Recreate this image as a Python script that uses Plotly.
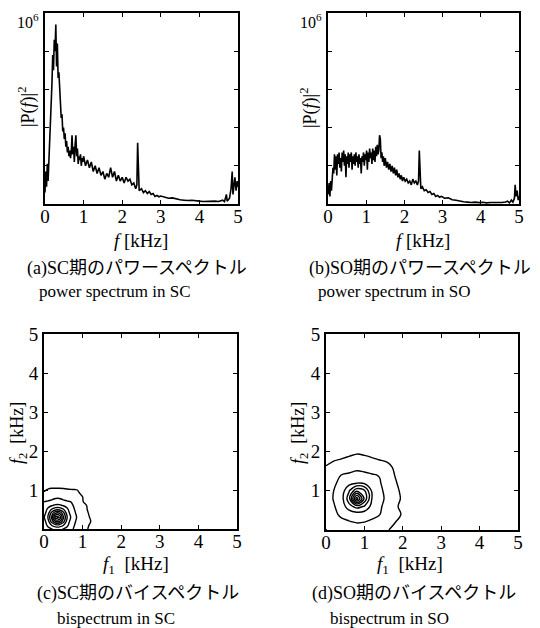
import plotly.graph_objects as go

PAGE_W, PAGE_H = 540, 628
OFF = 8  # default body margin of the html page
W, H = PAGE_W - OFF, PAGE_H - OFF

# ---------------- power spectrum in SC (kHz, |P(f)|^2) ----------------
f_sc = [0.00, 0.02, 0.04, 0.06, 0.08, 0.10, 0.12, 0.14, 0.16, 0.18, 0.20, 0.22, 0.24, 0.26,
        0.28, 0.30, 0.32, 0.34, 0.36, 0.38, 0.40, 0.42, 0.44, 0.46, 0.48, 0.50, 0.52, 0.54,
        0.56, 0.58, 0.60, 0.62, 0.64, 0.66, 0.68, 0.70, 0.72, 0.74, 0.76, 0.78, 0.80, 0.82,
        0.84, 0.86, 0.88, 0.90, 0.92, 0.94, 0.96, 0.98, 1.00, 1.05, 1.10, 1.15, 1.20, 1.25,
        1.30, 1.35, 1.40, 1.45, 1.50, 1.55, 1.60, 1.65, 1.70, 1.75, 1.80, 1.85, 1.90, 1.95,
        2.00, 2.05, 2.10, 2.15, 2.20, 2.25, 2.30, 2.35, 2.38, 2.40, 2.42, 2.44, 2.50, 2.55,
        2.60, 2.65, 2.70, 2.75, 2.80, 2.85, 2.90, 2.95, 3.00, 3.10, 3.20, 3.30, 3.40, 3.50,
        3.60, 3.70, 3.80, 3.90, 4.00, 4.10, 4.20, 4.30, 4.40, 4.50, 4.60, 4.65, 4.70, 4.72,
        4.78, 4.82, 4.85, 4.87, 4.90, 4.92, 4.95, 4.98, 5.00]
p_sc = [0.06, 0.17, 0.09, 0.21, 0.12, 0.22, 0.26, 0.36, 0.52, 0.63, 0.78, 0.70, 0.86, 0.80,
        0.94, 0.72, 0.84, 0.66, 0.69, 0.55, 0.53, 0.45, 0.47, 0.38, 0.40, 0.34, 0.37, 0.30,
        0.33, 0.27, 0.30, 0.25, 0.28, 0.24, 0.27, 0.36, 0.26, 0.30, 0.22, 0.31, 0.36, 0.25,
        0.29, 0.21, 0.25, 0.23, 0.26, 0.20, 0.24, 0.22, 0.25, 0.20, 0.23, 0.19, 0.22, 0.17,
        0.20, 0.16, 0.19, 0.15, 0.17, 0.13, 0.16, 0.14, 0.19, 0.14, 0.17, 0.12, 0.15, 0.12,
        0.14, 0.11, 0.14, 0.12, 0.13, 0.10, 0.11, 0.08, 0.10, 0.32, 0.20, 0.07, 0.08, 0.06,
        0.07, 0.055, 0.065, 0.05, 0.055, 0.04, 0.045, 0.038, 0.042, 0.035, 0.03, 0.032, 0.025, 0.022,
        0.02, 0.018, 0.02, 0.016, 0.015, 0.013, 0.014, 0.012, 0.015, 0.013, 0.02, 0.012, 0.05, 0.015,
        0.03, 0.08, 0.17, 0.05, 0.11, 0.14, 0.07, 0.12, 0.09]

# ---------------- power spectrum in SO ----------------
f_so = [0.00, 0.03, 0.05, 0.07, 0.09, 0.11, 0.13, 0.15, 0.17, 0.19, 0.21, 0.23, 0.25, 0.27,
        0.29, 0.31, 0.33, 0.35, 0.37, 0.39, 0.41, 0.43, 0.45, 0.47, 0.49, 0.51, 0.53, 0.55,
        0.57, 0.59, 0.61, 0.63, 0.65, 0.67, 0.69, 0.71, 0.73, 0.75, 0.77, 0.79, 0.81, 0.83,
        0.85, 0.87, 0.89, 0.91, 0.93, 0.95, 0.97, 0.99, 1.01, 1.03, 1.05, 1.07, 1.09, 1.11,
        1.13, 1.15, 1.17, 1.19, 1.21, 1.23, 1.25, 1.27, 1.29, 1.31, 1.33, 1.35, 1.37, 1.39,
        1.41, 1.43, 1.45, 1.47, 1.50, 1.53, 1.56, 1.59, 1.62, 1.65, 1.68, 1.71, 1.74, 1.77,
        1.80, 1.83, 1.86, 1.89, 1.92, 1.95, 1.98, 2.02, 2.06, 2.10, 2.14, 2.18, 2.22, 2.26,
        2.30, 2.34, 2.37, 2.39, 2.41, 2.43, 2.47, 2.52, 2.57, 2.62, 2.67, 2.72, 2.77, 2.82,
        2.87, 2.92, 2.97, 3.05, 3.15, 3.25, 3.35, 3.45, 3.55, 3.65, 3.75, 3.85, 3.95, 4.05,
        4.15, 4.25, 4.35, 4.45, 4.55, 4.65, 4.70, 4.75, 4.80, 4.84, 4.88, 4.90, 4.92, 4.95,
        4.98, 5.00]
p_so = [0.05, 0.11, 0.04, 0.12, 0.07, 0.13, 0.19, 0.16, 0.26, 0.18, 0.25, 0.15, 0.26, 0.21,
        0.27, 0.19, 0.24, 0.17, 0.27, 0.22, 0.28, 0.20, 0.26, 0.14, 0.25, 0.21, 0.27, 0.19,
        0.26, 0.22, 0.27, 0.18, 0.25, 0.21, 0.26, 0.20, 0.27, 0.22, 0.25, 0.19, 0.26, 0.21,
        0.24, 0.16, 0.25, 0.22, 0.27, 0.20, 0.26, 0.23, 0.28, 0.18, 0.27, 0.22, 0.29, 0.24,
        0.27, 0.21, 0.29, 0.23, 0.28, 0.22, 0.30, 0.25, 0.31, 0.26, 0.28, 0.36, 0.34, 0.24,
        0.27, 0.22, 0.25, 0.20, 0.24, 0.19, 0.22, 0.18, 0.21, 0.17, 0.20, 0.16, 0.19, 0.15,
        0.18, 0.14, 0.16, 0.13, 0.15, 0.12, 0.14, 0.12, 0.13, 0.11, 0.12, 0.10, 0.13, 0.11,
        0.12, 0.10, 0.12, 0.28, 0.15, 0.08, 0.09, 0.07, 0.075, 0.06, 0.065, 0.05, 0.055, 0.04,
        0.045, 0.035, 0.04, 0.03, 0.032, 0.022, 0.02, 0.015, 0.012, 0.01, 0.008, 0.01, 0.007, 0.009,
        0.006, 0.008, 0.007, 0.009, 0.008, 0.01, 0.015, 0.006, 0.02, 0.01, 0.03, 0.10, 0.04, 0.07,
        0.02, 0.04]
P_UNIT = 1e6  # values above are in units of 10^6

# ---------------- bispectrum in SC (arbitrary level units) ----------------
f1_sc = [0.0, 0.1, 0.2, 0.3, 0.4, 0.5, 0.6, 0.7, 0.8, 0.9, 1.0, 1.1, 1.2, 1.3, 1.4]
f2_sc = [0.0, 0.1, 0.2, 0.3, 0.4, 0.5, 0.6, 0.7, 0.8, 0.9, 1.0, 1.1, 1.2]
b_sc = [
    [2.25, 2.7, 2.95, 3.2, 3.2, 2.95, 2.7, 2.25, 1.8, 1.35, 1.15, 1.07, 0.87, 0.46, 0.36],
    [2.45, 3.2, 4.1, 4.7, 4.7, 4.1, 3.2, 2.45, 1.95, 1.45, 1.12, 1.13, 0.93, 0.6, 0.39],
    [2.65, 3.55, 5.5, 7.1, 7.1, 5.5, 3.55, 2.65, 2.1, 1.6, 1.2, 1.19, 1.05, 0.54, 0.42],
    [2.9, 4.0, 6.2, 9.6, 9.0, 6.2, 4.0, 2.9, 2.2, 1.75, 1.3, 1.2, 0.95, 0.6, 0.45],
    [2.65, 3.55, 5.5, 7.1, 7.1, 5.5, 3.55, 2.65, 2.1, 1.6, 1.2, 1.15, 0.85, 0.54, 0.42],
    [2.45, 3.2, 4.1, 4.7, 4.7, 4.1, 3.2, 2.45, 1.95, 1.45, 1.12, 1.08, 0.68, 0.5, 0.39],
    [2.25, 2.7, 2.95, 3.2, 3.2, 2.95, 2.7, 2.25, 1.8, 1.35, 1.03, 1.02, 0.62, 0.46, 0.36],
    [1.98, 2.1, 2.2, 2.4, 2.4, 2.2, 2.1, 1.98, 1.65, 1.25, 1.05, 0.76, 0.56, 0.43, 0.33],
    [1.48, 1.62, 1.78, 1.92, 1.92, 1.78, 1.62, 1.48, 1.36, 1.15, 1.02, 0.7, 0.5, 0.4, 0.3],
    [1.13, 1.22, 1.32, 1.44, 1.44, 1.32, 1.22, 1.13, 1.05, 1.03, 0.95, 0.64, 0.47, 0.37, 0.28],
    [0.89, 1.08, 1.15, 1.1, 1.1, 1.12, 1.08, 1.06, 1.05, 0.97, 0.71, 0.58, 0.44, 0.34, 0.24],
    [0.69, 0.75, 0.81, 0.87, 0.87, 0.81, 0.75, 0.69, 0.63, 0.57, 0.51, 0.48, 0.41, 0.31, 0.21],
    [0.5, 0.52, 0.56, 0.6, 0.6, 0.56, 0.52, 0.5, 0.47, 0.44, 0.4, 0.37, 0.34, 0.28, 0.2],
]

# ---------------- bispectrum in SO ----------------
f1_so = [0.0, 0.2, 0.4, 0.6, 0.8, 1.0, 1.2, 1.4, 1.6, 1.8, 2.0, 2.2, 2.4]
f2_so = [0.0, 0.2, 0.4, 0.6, 0.8, 1.0, 1.2, 1.4, 1.6, 1.8, 2.0, 2.2, 2.4]
b_so = [
    [0.99, 1.11, 1.24, 1.39, 1.53, 1.46, 1.31, 1.17, 1.05, 0.79, 0.5, 0.32, 0.2],
    [1.11, 1.59, 1.75, 1.93, 2.05, 2.0, 1.84, 1.67, 1.34, 1.02, 0.57, 0.37, 0.23],
    [1.24, 1.75, 2.21, 2.34, 2.5, 2.42, 2.27, 2.02, 1.49, 1.15, 0.95, 0.41, 0.27],
    [1.39, 1.93, 2.34, 3.6, 4.4, 3.9, 2.65, 2.13, 1.65, 1.15, 0.76, 0.47, 0.3],
    [1.53, 2.05, 2.5, 4.6, 9.6, 5.8, 2.92, 2.25, 1.8, 1.28, 0.87, 0.54, 0.35],
    [1.46, 2.0, 2.42, 3.9, 5.8, 5.2, 2.78, 2.19, 1.72, 1.21, 0.81, 0.5, 0.32],
    [1.31, 1.84, 2.27, 2.65, 2.92, 2.78, 2.54, 2.07, 1.56, 1.09, 0.7, 0.44, 0.29],
    [1.17, 1.67, 2.02, 2.13, 2.25, 2.19, 2.07, 1.96, 1.41, 0.97, 0.6, 0.39, 0.25],
    [1.05, 1.34, 1.49, 1.65, 1.8, 1.72, 1.56, 1.41, 1.26, 0.85, 0.53, 0.34, 0.22],
    [0.79, 0.91, 1.03, 1.15, 1.28, 1.21, 1.09, 0.97, 0.85, 0.74, 0.46, 0.3, 0.19],
    [0.5, 0.57, 0.65, 0.76, 0.87, 0.81, 0.7, 0.6, 0.53, 0.46, 0.4, 0.26, 0.16],
    [0.32, 0.37, 0.41, 0.47, 0.54, 0.5, 0.44, 0.39, 0.34, 0.3, 0.26, 0.23, 0.14],
    [0.2, 0.23, 0.27, 0.3, 0.35, 0.32, 0.29, 0.25, 0.22, 0.19, 0.16, 0.14, 0.13],
]

x_ticks = [0, 1, 2, 3, 4, 5]
p_ticks = [0, 0.2, 0.4, 0.6, 0.8, 1.0]
p_top_label = "10<sup>6</sup>"
f2_ticks = [0, 1, 2, 3, 4, 5]
f2_labels = ["", "1", "2", "3", "4", "5"]

captions = [
    ("(a)SC期のパワースペクトル", "power spectrum in SC"),
    ("(b)SO期のパワースペクトル", "power spectrum in SO"),
    ("(c)SC期のバイスペクトル", "bispectrum in SC"),
    ("(d)SO期のバイスペクトル", "bispectrum in SO"),
]

SERIF = '"Liberation Serif", serif'
CAP_FONT = '"Liberation Serif", "Noto Sans CJK JP", serif'


def px(xp):
    """page pixel x -> paper fraction"""
    return (xp - OFF) / W


def py(yp):
    """page pixel y -> paper fraction"""
    return 1 - (yp - OFF) / H


# panel frames in page pixels: (left, right, top, bottom)
frames = [(45, 238, 13, 204), (328, 519, 13, 204), (44, 237, 334, 529), (326, 518, 334, 530)]

fig = go.Figure()

fig.add_trace(go.Scatter(x=f_sc, y=[v * P_UNIT for v in p_sc], mode="lines",
                         line=dict(color="black", width=1.6), xaxis="x", yaxis="y"))
fig.add_trace(go.Scatter(x=f_so, y=[v * P_UNIT for v in p_so], mode="lines",
                         line=dict(color="black", width=1.6), xaxis="x2", yaxis="y2"))

contour_common = dict(
    colorscale=[[0, "black"], [1, "black"]], showscale=False,
    contours=dict(coloring="lines", start=1, end=9, size=1),
    line=dict(width=1.4), hoverinfo="skip",
)
fig.add_trace(go.Contour(x=f1_sc, y=f2_sc, z=b_sc, xaxis="x3", yaxis="y3", **contour_common))
fig.add_trace(go.Contour(x=f1_so, y=f2_so, z=b_so, xaxis="x4", yaxis="y4", **contour_common))

axis_common = dict(
    showline=True, linecolor="black", linewidth=2, mirror="allticks",
    ticks="inside", ticklen=4, tickwidth=1.2, tickcolor="black",
    showgrid=False, zeroline=False, ticklabeloverflow="allow",
    tickfont=dict(family=SERIF, size=19, color="black"),
)

layout = dict(
    width=W, height=H, margin=dict(l=0, r=0, t=0, b=0, autoexpand=False),
    paper_bgcolor="white", plot_bgcolor="white", showlegend=False,
)
names = ["", "2", "3", "4"]
for k, (l, r, t, b) in enumerate(frames):
    xa = dict(axis_common, domain=[px(l), px(r)], range=[0, 5], tickvals=x_ticks,
              anchor="y" + names[k], ticklabelstandoff=-6)
    if k < 2:
        ya = dict(axis_common, domain=[py(b), py(t)], range=[0, 1e6],
                  tickvals=[v * P_UNIT for v in p_ticks], showticklabels=False,
                  anchor="x" + names[k])
    else:
        ya = dict(axis_common, domain=[py(b), py(t)], range=[0, 5],
                  tickvals=f2_ticks, ticktext=f2_labels, anchor="x" + names[k])
    layout["xaxis" + names[k]] = xa
    layout["yaxis" + names[k]] = ya

fig.update_layout(**layout)

ann = []
tfont = dict(family=SERIF, size=19, color="black")
# top label of the power axes (10^6 at the top tick)
for k in range(2):
    ann.append(dict(x=0, y=p_ticks[-1] * P_UNIT, xref="x" + names[k] + " domain", yref="y" + names[k],
                    text=p_top_label, showarrow=False, font=dict(family=SERIF, size=16, color="black"),
                    xanchor="right", yanchor="top", xshift=-4, yshift=4))
# x-axis titles
for (xp, yp, txt) in [(141, 240, "<i>f</i> [kHz]"), (423, 240, "<i>f</i> [kHz]"),
                      (136, 565, "<i>f</i><sub>1</sub>  [kHz]"), (410, 565, "<i>f</i><sub>1</sub>  [kHz]")]:
    ann.append(dict(x=px(xp), y=py(yp), xref="paper", yref="paper", text=txt, showarrow=False,
                    font=tfont, xanchor="center", yanchor="middle"))
# y-axis titles
for (xp, yp, txt) in [(27, 107, "|P(<i>f</i>)|<sup>2</sup>"), (309, 108, "|P(<i>f</i>)|<sup>2</sup>"),
                      (19, 433, "<i>f</i><sub>2</sub>  [kHz]"), (300, 433, "<i>f</i><sub>2</sub>  [kHz]")]:
    ann.append(dict(x=px(xp), y=py(yp), xref="paper", yref="paper", text=txt, showarrow=False,
                    font=dict(family=SERIF, size=18, color="black"), textangle=-90,
                    xanchor="center", yanchor="middle"))
# captions
cap_pos = [((137, 269), (115, 292)), ((420, 269), (394, 292)),
           ((138, 593), (116, 618)), ((414, 593), (389, 618))]
for (l1, l2), ((x1, y1), (x2, y2)) in zip(captions, cap_pos):
    ann.append(dict(x=px(x1), y=py(y1), xref="paper", yref="paper", text=l1, showarrow=False,
                    font=dict(family=CAP_FONT, size=18, color="black"), xanchor="center", yanchor="middle"))
    ann.append(dict(x=px(x2), y=py(y2), xref="paper", yref="paper", text=l2, showarrow=False,
                    font=dict(family=CAP_FONT, size=17, color="black"), xanchor="center", yanchor="middle"))

fig.update_layout(annotations=ann)
fig.write_html("out.html")
